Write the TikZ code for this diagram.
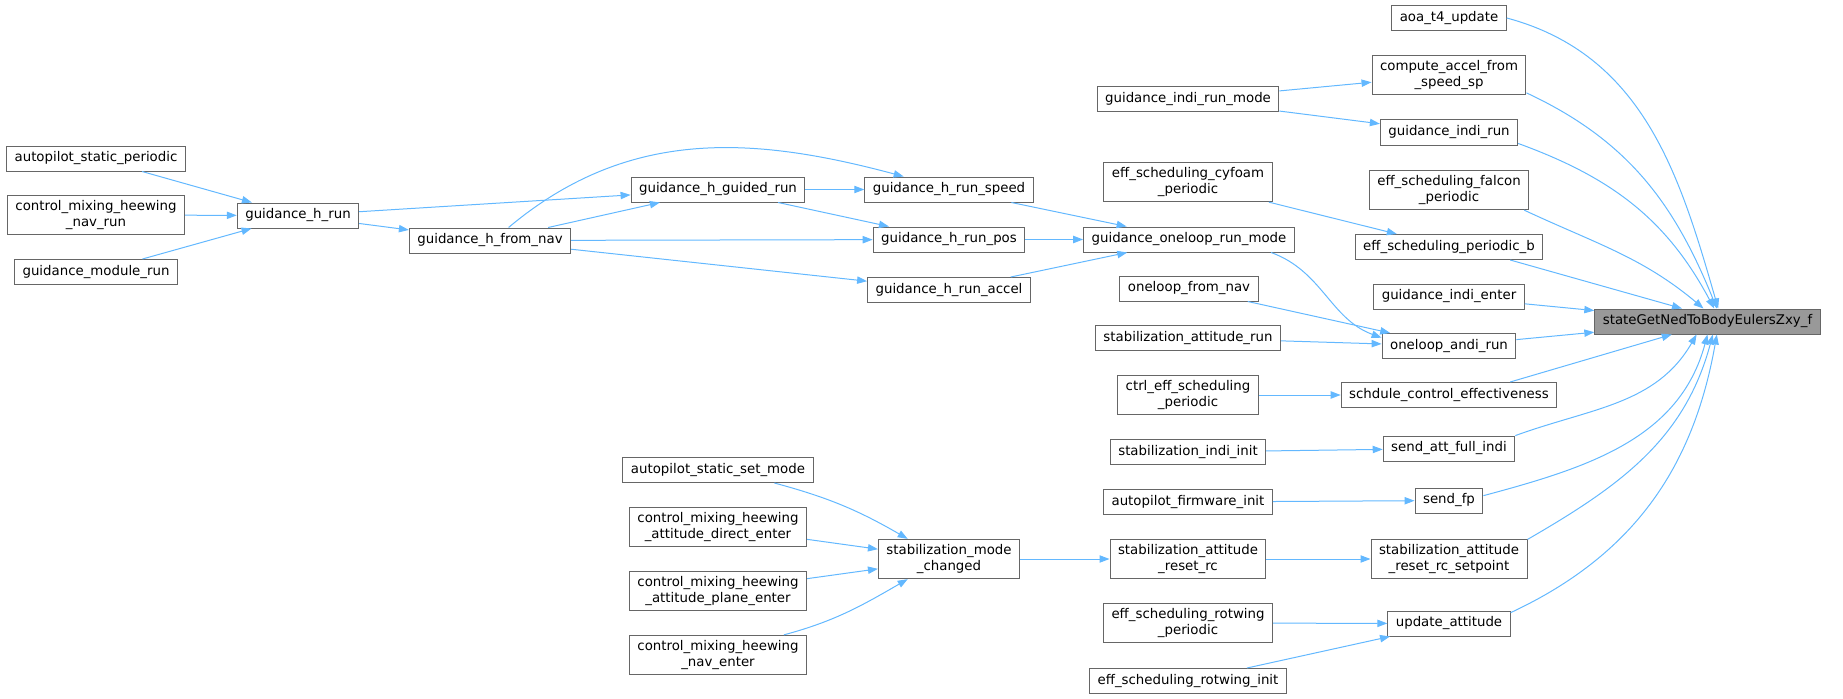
\documentclass[tikz,border=0pt]{standalone}
\usepackage{fontspec}
\setmainfont{DejaVu Sans}
\usetikzlibrary{arrows.meta}
\definecolor{edgeblue}{HTML}{63B8FF}
\definecolor{boxline}{HTML}{666666}
\definecolor{boxfill}{HTML}{999999}

\begin{document}
\begin{tikzpicture}[x=0.75pt,y=0.75pt,font=\fontsize{10}{11.5}\selectfont,
  fn/.style={draw=boxline,fill=white,line width=0.75pt,inner xsep=6pt,inner ysep=4pt,minimum height=18.75pt,align=center},
  call/.style={draw=edgeblue,line width=0.75pt,-{Triangle[length=7.5pt,width=5.5pt]}}]
\useasboundingbox (0,0) rectangle (1843,-699);
\node[fn] (asp) at (96,-158.5) {autopilot\_static\_periodic};
\node[fn] (cmnavrun) at (96,-215) {control\_mixing\_heewing\\\_nav\_run};
\node[fn] (gmr) at (96,-272) {guidance\_module\_run};
\node[fn] (hrun) at (298,-215.5) {guidance\_h\_run};
\node[fn] (hnav) at (490,-240.5) {guidance\_h\_from\_nav};
\node[fn] (hguided) at (718,-189.5) {guidance\_h\_guided\_run};
\node[fn] (hspeed) at (949,-189.5) {guidance\_h\_run\_speed};
\node[fn] (hpos) at (949,-239.5) {guidance\_h\_run\_pos};
\node[fn] (haccel) at (949,-290) {guidance\_h\_run\_accel};
\node[fn] (indimode) at (1188,-99.5) {guidance\_indi\_run\_mode};
\node[fn] (cyfoam) at (1188,-182) {eff\_scheduling\_cyfoam\\\_periodic};
\node[fn] (olmode) at (1189,-239.5) {guidance\_oneloop\_run\_mode};
\node[fn] (olnav) at (1189,-288.5) {oneloop\_from\_nav};
\node[fn] (satrun) at (1188,-338) {stabilization\_attitude\_run};
\node[fn] (ctrleff) at (1188,-395) {ctrl\_eff\_scheduling\\\_periodic};
\node[fn] (sindi) at (1188,-452) {stabilization\_indi\_init};
\node[fn] (afinit) at (1188,-502) {autopilot\_firmware\_init};
\node[fn] (rcreset) at (1188,-559) {stabilization\_attitude\\\_reset\_rc};
\node[fn] (rwper) at (1188,-623) {eff\_scheduling\_rotwing\\\_periodic};
\node[fn] (rwinit) at (1188,-681) {eff\_scheduling\_rotwing\_init};
\node[fn] (setmode) at (718,-470) {autopilot\_static\_set\_mode};
\node[fn] (cmdirect) at (718,-527) {control\_mixing\_heewing\\\_attitude\_direct\_enter};
\node[fn] (cmplane) at (718,-591) {control\_mixing\_heewing\\\_attitude\_plane\_enter};
\node[fn] (cmnaventer) at (718,-655) {control\_mixing\_heewing\\\_nav\_enter};
\node[fn] (smc) at (949,-559) {stabilization\_mode\\\_changed};
\node[fn] (aoa) at (1449,-18) {aoa\_t4\_update};
\node[fn] (accelsp) at (1449,-75) {compute\_accel\_from\\\_speed\_sp};
\node[fn] (indirun) at (1449,-132.5) {guidance\_indi\_run};
\node[fn] (falcon) at (1449,-190) {eff\_scheduling\_falcon\\\_periodic};
\node[fn] (effb) at (1449,-247) {eff\_scheduling\_periodic\_b};
\node[fn] (indienter) at (1449,-296.5) {guidance\_indi\_enter};
\node[fn] (andi) at (1449,-346) {oneloop\_andi\_run};
\node[fn] (schdule) at (1449,-395) {schdule\_control\_effectiveness};
\node[fn] (sendatt) at (1449,-448.5) {send\_att\_full\_indi};
\node[fn] (sendfp) at (1449,-500.5) {send\_fp};
\node[fn] (rcsp) at (1449,-559) {stabilization\_attitude\\\_reset\_rc\_setpoint};
\node[fn] (updatt) at (1449,-623.5) {update\_attitude};
\node[fn,fill=boxfill] (sg) at (1707.5,-321.5) {stateGetNedToBodyEulersZxy\_f};
\draw [call] (asp) -- (hrun);
\draw [call] (cmnavrun) -- (hrun);
\draw [call] (gmr) -- (hrun);
\draw [call] (hrun) -- (hguided);
\draw [call] (hrun) -- (hnav);
\draw [call] (hnav) -- (hguided);
\draw [call] (hnav.35) to[out=40,in=165] (hspeed.164);
\draw [call] (hnav) -- (hpos);
\draw [call] (hnav) -- (haccel);
\draw [call] (hguided) -- (hspeed);
\draw [call] (hguided) -- (hpos);
\draw [call] (hspeed) -- (olmode);
\draw [call] (hpos) -- (olmode);
\draw [call] (haccel) -- (olmode);
\draw [call] (olmode.-9) to[out=-20,in=160] (andi.173);
\draw [call] (olnav) -- (andi);
\draw [call] (satrun) -- (andi);
\draw [call] (indimode) -- (accelsp);
\draw [call] (indimode) -- (indirun);
\draw [call] (cyfoam) -- (effb);
\draw [call] (ctrleff) -- (schdule);
\draw [call] (sindi) -- (sendatt);
\draw [call] (afinit) -- (sendfp);
\draw [call] (rcreset) -- (rcsp);
\draw [call] (rwper) -- (updatt);
\draw [call] (rwinit) -- (updatt);
\draw [call] (setmode.-13) to[out=-15,in=150] (smc.154);
\draw [call] (cmdirect) -- (smc);
\draw [call] (cmplane) -- (smc);
\draw [call] (cmnaventer.17) to[out=15,in=-150] (smc.206);
\draw [call] (smc) -- (rcreset);
\draw [call] (aoa.east) to[out=-15,in=106] ([xshift=8pt]sg.north);
\draw [call] (accelsp.-13) to[out=-25,in=112] ([xshift=7pt]sg.north);
\draw [call] (indirun.-9) to[out=-20,in=118] ([xshift=5pt]sg.north);
\draw [call] (falcon.-15) to[out=-25,in=140] ([xshift=-3pt]sg.north);
\draw [call] (effb.-12) -- (sg.153);
\draw [call] (indienter) -- (sg);
\draw [call] (andi) -- (sg);
\draw [call] (schdule.12) -- (sg.200);
\draw [call] (sendatt.11) to[out=20,in=-120] (sg.230);
\draw [call] (sendfp.8) to[out=15,in=-105] (sg.south);
\draw [call] (rcsp.14) to[out=30,in=-105] ([xshift=4pt]sg.south);
\draw [call] (updatt.10) to[out=25,in=-100] ([xshift=7pt]sg.south);
\end{tikzpicture}
\end{document}
